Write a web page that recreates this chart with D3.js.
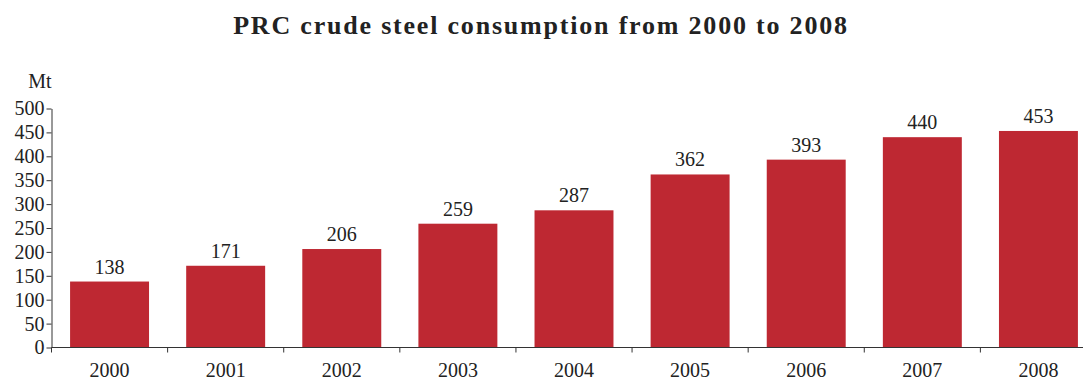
<!DOCTYPE html>
<html>
<head>
<meta charset="utf-8">
<script src="https://cdn.jsdelivr.net/npm/d3@7"></script>
<style>
body { margin: 0; background: #fff; }
text { font-family: "Liberation Serif", "Times New Roman", serif; fill: #222; }
</style>
</head>
<body>
<script>
let years = ["2000", "2001", "2002", "2003", "2004", "2005", "2006", "2007", "2008"];
let consumption = [138, 171, 206, 259, 287, 362, 393, 440, 453];
let yTicks = [0, 50, 100, 150, 200, 250, 300, 350, 400, 450, 500];

let width = 1083;
let height = 380;

let svg = d3.select("body").append("svg").attr("width", width).attr("height", height);

// title
svg.append("text")
  .attr("x", 541)
  .attr("y", 34)
  .attr("text-anchor", "middle")
  .style("font-size", "26px")
  .style("font-weight", "bold")
  .style("letter-spacing", "1.8px")
  .text("PRC crude steel consumption from 2000 to 2008");

let x = d3.scaleBand()
  .domain(years)
  .range([51.5, 1096.5])
  .paddingInner(0.32)
  .paddingOuter(0.16);

let y = d3.scaleLinear()
  .domain([0, 500])
  .range([347.5, 108.5]);

// bars
svg.selectAll(".bar")
  .data(consumption)
  .enter()
  .append("rect")
  .attr("class", "bar")
  .attr("x", (d, i) => x(years[i]))
  .attr("y", d => y(d))
  .attr("width", x.bandwidth())
  .attr("height", d => y(0) - y(d))
  .attr("fill", "#be2832");

// value labels
svg.selectAll(".val")
  .data(consumption)
  .enter()
  .append("text")
  .attr("class", "val")
  .attr("x", (d, i) => x(years[i]) + x.bandwidth() / 2)
  .attr("y", d => y(d) - 8)
  .attr("text-anchor", "middle")
  .style("font-size", "20px")
  .text(d => d);

// y axis
let yAxis = svg.append("g")
  .attr("transform", "translate(51.5,0)")
  .call(d3.axisLeft(y).tickValues(yTicks).tickSize(5).tickSizeOuter(0).tickPadding(2));
yAxis.select(".domain").attr("stroke", "#333");
yAxis.selectAll(".tick line").attr("stroke", "#333");
yAxis.selectAll(".tick text")
  .style("font-size", "20px")
  .style("font-family", "Liberation Serif, serif")
  .attr("fill", "#222");

// x axis line and ticks at the category boundaries
let xAxis = svg.append("g");
xAxis.append("line")
  .attr("x1", x.range()[0]).attr("x2", x.range()[1])
  .attr("y1", y(0)).attr("y2", y(0))
  .attr("stroke", "#333");
xAxis.selectAll(".xt")
  .data(d3.range(years.length + 1))
  .enter()
  .append("line")
  .attr("x1", i => x.range()[0] + i * x.step())
  .attr("x2", i => x.range()[0] + i * x.step())
  .attr("y1", y(0))
  .attr("y2", y(0) + 5)
  .attr("stroke", "#333");
xAxis.selectAll(".yl")
  .data(years)
  .enter()
  .append("text")
  .attr("x", d => x(d) + x.bandwidth() / 2)
  .attr("y", 377)
  .attr("text-anchor", "middle")
  .style("font-size", "20px")
  .text(d => d);

// unit label
svg.append("text")
  .attr("x", 40)
  .attr("y", 88)
  .attr("text-anchor", "middle")
  .style("font-size", "20px")
  .text("Mt");
</script>
</body>
</html>
